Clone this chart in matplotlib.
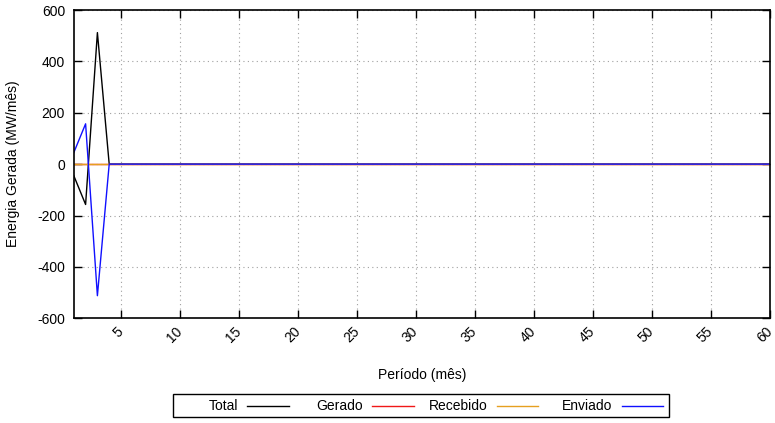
import matplotlib
matplotlib.use("Agg")
import matplotlib.pyplot as plt
from matplotlib.lines import Line2D
from matplotlib.patches import Rectangle

plt.rcParams['font.family'] = ['Liberation Sans', 'DejaVu Sans']

periods = list(range(1, 61))
total = [-45, -157, 512, 0] + [0] * 56
gerado = [0] * 60
recebido = [0] * 60
enviado = [45, 157, -512, 0] + [0] * 56

series_names = ['Total', 'Gerado', 'Recebido', 'Enviado']
series_colors = ['black', '#f01818', '#e6a020', '#1010ff']
series_values = [total, gerado, recebido, enviado]

xticks = list(range(5, 61, 5))
yticks = list(range(-600, 601, 200))

W, H = 775, 423
fig = plt.figure(figsize=(W / 100, H / 100), dpi=100)

def fx(px):
    return px / W

def fy(py):
    return 1 - py / H

ax_l, ax_r, ax_t, ax_b = 73.8, 770, 10, 318.3
ax = fig.add_axes([fx(ax_l), fy(ax_b), fx(ax_r - ax_l), (ax_b - ax_t) / H])

for name, col, vals in zip(series_names, series_colors, series_values):
    ax.plot(periods, vals, color=col, lw=1, label=name)

ax.set_xlim(1, 60)
ax.set_ylim(-600, 600)
ax.set_xticks(xticks)
ax.set_yticks(yticks)
ax.set_xticklabels([str(t) for t in xticks], rotation=45, ha='right', va='center',
                   rotation_mode='anchor', fontsize=10)
ax.set_yticklabels([str(t) for t in yticks], fontsize=10)
ax.tick_params(direction='in', top=True, right=True, length=6, width=1)
ax.tick_params(axis='y', pad=6.3)
ax.tick_params(axis='x', pad=8)
ax.grid(True, linestyle=(0, (1, 3)), color='#a0a0a0', lw=0.8)
for s in ax.spines.values():
    s.set_linewidth(1.2)

fig.text(fx(13), fy(164), 'Energia Gerada (MW/mês)', fontsize=10, rotation=90,
         ha='center', va='center')
fig.text(fx(422), fy(375), 'Período (mês)', fontsize=10, ha='center', va='center')

# gnuplot-style legend: label right-aligned, sample to its right
box_l, box_r, box_t, box_b = 173, 669.3, 394, 416.7
fig.patches.append(Rectangle((fx(box_l), fy(box_b)), fx(box_r - box_l), (box_b - box_t) / H,
                             transform=fig.transFigure, fill=False, edgecolor='black', lw=1))
line_starts = [247.3, 372.3, 496.7, 621.7]
line_len = 41.7
ly = 406
for name, col, ls in zip(series_names, series_colors, line_starts):
    fig.lines.append(Line2D([fx(ls), fx(ls + line_len)], [fy(ly), fy(ly)],
                            transform=fig.transFigure, color=col, lw=1))
    fig.text(fx(ls - 9), fy(ly), name, fontsize=10, ha='right', va='center')

fig.savefig('out.png', dpi=100)
